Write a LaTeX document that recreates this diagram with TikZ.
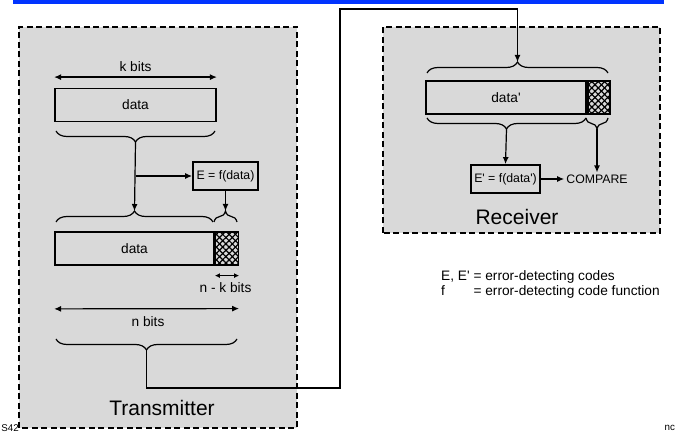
\documentclass[tikz,border=0pt]{standalone}
\usepackage{fontspec}
\setmainfont{Liberation Sans}
\usetikzlibrary{arrows.meta,decorations.pathreplacing,patterns.meta,positioning}
\definecolor{panelgray}{RGB}{217,217,217}
\definecolor{slideblue}{RGB}{0,51,255}
\newcommand{\labelsz}{\fontsize{13.7}{14}\selectfont}
\newcommand{\boxsz}{\fontsize{12.3}{14}\selectfont}
\newcommand{\titlesz}{\fontsize{21}{24}\selectfont}
\newcommand{\edgesz}{\fontsize{9.8}{11}\selectfont}

\tikzset{
  panel/.style={draw, fill=panelgray, line width=1.5pt, dash pattern=on 6pt off 3.5pt},
  field/.style={draw, line width=1.8pt, minimum height=33pt, inner sep=0pt, font=\labelsz},
  check/.style={field, pattern={Lines[angle=45,distance=4.5pt,line width=1.2pt]},
    postaction={pattern={Lines[angle=-45,distance=4.5pt,line width=1.2pt]}}},
  fnbox/.style={draw, line width=1.8pt, minimum height=28pt, inner sep=0pt, font=\boxsz},
  conn/.style={line width=1.2pt, -{Latex[length=7pt,width=6pt]}},
  dimarrow/.style={line width=1.2pt, {Latex[length=7pt,width=6pt]}-{Latex[length=7pt,width=6pt]}},
  brc/.style={decorate, decoration={brace, amplitude=11pt}, line width=1.2pt},
}

\begin{document}
\begin{tikzpicture}[x=1pt,y=1pt]
    % Canvas
    \useasboundingbox (0,0) rectangle (676,438);
    \fill[slideblue] (13,433.5) rectangle (664,438);
    \node[anchor=east, font=\edgesz, inner sep=0pt] (pagenum) at (19,10) {S42};
    \node[anchor=west, font=\edgesz, inner sep=0pt] (footer) at (664.5,10) {nc};

    % Panels
    \draw[panel] (19,10) rectangle (297,411);
    \draw[panel] (383,205) rectangle (660,411);

    % Transmitter: k bits of data
    \node[field, minimum width=161pt] (tdata) at (135.5,333) {data};
    \node[font=\labelsz] (kbits) at (135.5,371) {k bits};
    \draw[dimarrow] ([yshift=10.5pt]tdata.north west) -- ([yshift=10.5pt]tdata.north east);
    \draw[brc] (215,307) -- (56,307);
    \coordinate (t1) at (135.5,296);

    % Error-detecting code
    \node[fnbox, minimum width=65pt] (efun) at (225.5,262) {E = f(data)};

    % Transmitter: n bits sent
    \node[field, minimum width=159pt] (tdata2) at (134.5,189.5) {data};
    \node[check, minimum width=23pt, right=0pt of tdata2] (tchk) {};
    \draw[brc] (56,216) -- (213,216);
    \draw[brc] (214,216) -- (237,216);
    \coordinate (t2) at (134.5,227);
    \coordinate (t3) at (225.5,227);
    \draw[conn] (t1) -- (t2);
    \draw[conn] (t1 |- efun.west) -- (efun.west);
    \draw[conn] (efun.south) -- (t3);

    \draw[line width=1.2pt, {Latex[length=5pt,width=5pt]}-{Latex[length=5pt,width=5pt]}]
        ([yshift=-10pt]tchk.south west) -- ([yshift=-10pt]tchk.south east);
    \node[font=\labelsz] (nkbits) at (225.5,150) {n - k bits};
    \draw[dimarrow] ([yshift=-43pt]tdata2.south west) -- ([yshift=-43pt]tchk.south east);
    \node[font=\labelsz] (nbits) at (148,116) {n bits};
    \draw[brc] (237,99) -- (56,99);
    \coordinate (t4) at (146.5,88);
    \node[font=\titlesz] (tx) at (162,30) {Transmitter};

    % Receiver
    \node[field, minimum width=160pt] (rdata) at (506,340.5) {data\textquotesingle};
    \node[check, minimum width=22pt, right=0pt of rdata] (rchk) {};
    \draw[brc] (427,365) -- (608,365);
    \draw[brc] (586,320) -- (427,320);
    \draw[brc] (608,320) -- (586,320);
    \coordinate (r1) at (517.5,376);
    \coordinate (r2) at (506.5,309);
    \coordinate (r3) at (597,309);
    \node[fnbox, minimum width=69pt] (efun2) at (505.5,259) {E\textquotesingle{} = f(data\textquotesingle)};
    \node[font=\boxsz, inner sep=2pt] (cmp) at (597,259) {COMPARE};
    \draw[conn] (r2) -- (efun2.north);
    \draw[conn] (efun2.east) -- (cmp.west);
    \draw[conn] (r3) -- (cmp.north);
    \node[font=\titlesz] (rx) at (517,221) {Receiver};

    % Transmission line
    \coordinate (lowbend) at (340,50);
    \coordinate (highbend) at (340,429);
    \draw[conn] (t4) |- (lowbend) -- (highbend) -| (r1);

    % Legend
    \node[anchor=west, inner sep=0pt, font=\labelsz] (legend) at (441,152.8)
        {\begin{tabular}{@{}l@{ }l@{}}E, E\textquotesingle & = error-detecting codes\\
         f & = error-detecting code function\end{tabular}};
\end{tikzpicture}
\end{document}
